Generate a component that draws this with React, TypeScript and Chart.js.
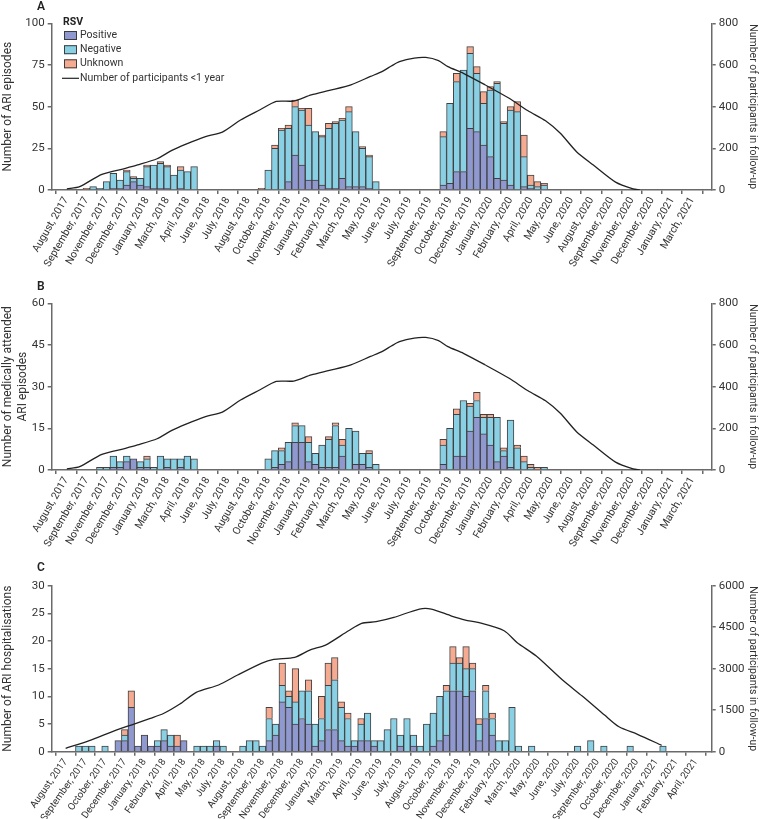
import { useEffect, useRef } from "react";
import { Chart, registerables } from "chart.js";
Chart.register(...registerables);

const FONT = "Roboto, 'Open Sans', sans-serif";
const TXT = "#333333";
const AXIS = "#6a6a6a";
const EDGE = "rgba(55,55,55,0.95)";
const C_POS = "#8f98cf";
const C_NEG = "#89d0e4";
const C_UNK = "#f5ab92";

// x tick labels (one every 3 two-week bars)
const ticksAB = ["August, 2017", "September, 2017", "November, 2017", "December, 2017", "January, 2018", "March, 2018", "April, 2018", "June, 2018", "July, 2018", "August, 2018", "October, 2018", "November, 2018", "January, 2019", "February, 2019", "March, 2019", "May, 2019", "June, 2019", "July, 2019", "September, 2019", "October, 2019", "December, 2019", "January, 2020", "February, 2020", "April, 2020", "May, 2020", "June, 2020", "August, 2020", "September, 2020", "November, 2020", "December, 2020", "January, 2021", "March, 2021"];
const ticksC = ["August, 2017", "September, 2017", "October, 2017", "December, 2017", "January, 2018", "February, 2018", "April, 2018", "May, 2018", "July, 2018", "August, 2018", "September, 2018", "November, 2018", "December, 2018", "January, 2019", "March, 2019", "April, 2019", "June, 2019", "July, 2019", "August, 2019", "October, 2019", "November, 2019", "December, 2019", "February, 2020", "March, 2020", "May, 2020", "June, 2020", "July, 2020", "September, 2020", "October, 2020", "December, 2020", "January, 2021", "February, 2021", "April, 2021"];

// Panel A: ARI episodes per bar slot
const aPositive = [0,0,0,0,0,0,0,1,1,3, 5,3,2,1,1,1,0,1,0,0, 0,0,0,0,0,0,0,0,0,0, 0,0,0,5,21,15,6,6,3,1, 1,7,2,2,2,1,0,0,0,0, 0,0,0,0,0,0,3,4,11,11, 37,35,27,20,7,6,3,0,2,1, 0,0];
const aNegative = [0,0,0,0,2,1,5,9,5,8, 2,4,12,14,15,13,9,11,11,14, 0,0,0,0,0,0,0,0,0,0, 12,25,36,32,29,33,33,29,29,36, 39,35,45,33,23,19,5,0,0,0, 0,0,0,0,0,0,29,48,54,61, 45,35,25,40,57,34,45,47,18,2, 2,3];
const aUnknown = [0,0,0,1,0,0,0,0,0,1, 1,0,1,0,1,1,0,2,0,0, 0,0,0,0,0,0,0,0,0,1, 0,2,1,2,4,1,10,0,1,3, 1,1,3,0,1,1,0,0,0,0, 0,0,0,0,0,0,3,0,5,0, 4,4,7,2,1,1,2,6,13,6, 3,1];

// Panel B: medically attended ARI episodes
const bPositive = [0,0,0,0,0,0,0,1,1,3, 4,1,1,0,0,1,0,1,0,0, 0,0,0,0,0,0,0,0,0,0, 0,1,2,3,10,10,3,2,1,1, 1,5,0,2,2,1,0,0,0,0, 0,0,0,0,0,0,2,0,5,5, 14,19,13,9,3,5,1,0,0,0, 0,0];
const bNegative = [0,0,0,0,0,1,1,4,2,2, 0,2,3,1,5,3,4,3,5,4, 0,0,0,0,0,0,0,0,0,0, 4,6,5,7,6,6,7,4,8,10, 15,4,15,12,4,5,2,0,0,0, 0,0,0,0,0,0,7,15,15,20, 9,6,6,10,16,2,17,8,3,1, 0,1];
const bUnknown = [0,0,0,0,0,0,0,0,0,0, 0,0,1,0,0,0,0,0,0,0, 0,0,0,0,0,0,0,0,0,0, 0,0,1,0,1,0,2,0,0,1, 1,2,0,0,0,1,0,0,0,0, 0,0,0,0,0,0,2,0,2,0, 1,3,1,1,0,1,0,1,2,1, 1,0];

// Panel C: ARI hospitalisations
const cPositive = [0,0,0,0,0,0,0,0,2,2, 8,1,3,1,1,2,1,1,2,0, 0,0,0,1,0,0,0,0,0,0, 0,2,3,9,8,5,6,5,1,2, 4,4,2,1,1,2,2,1,0,0, 0,1,0,1,0,0,1,2,3,11, 11,10,11,2,6,3,0,0,0,0, 0,0,0,0,0,0,0,0,0,0, 0,0,0,0,0,0,0,0,0,0, 0,0];
const cNegative = [0,0,1,1,1,0,1,0,0,1, 0,0,0,0,1,2,2,0,0,0, 1,1,1,1,1,0,0,1,2,2, 1,4,2,3,2,4,5,6,4,4, 8,9,6,5,1,3,5,1,2,4, 6,2,6,2,1,5,6,8,8,5, 5,5,4,3,5,3,2,2,8,1, 0,1,0,0,0,0,0,0,1,0, 2,0,1,0,0,0,1,0,0,0, 0,1];
const cUnknown = [0,0,0,0,0,0,0,0,0,1, 3,0,0,0,0,0,0,2,0,0, 0,0,0,0,0,0,0,0,0,0, 0,2,0,4,1,6,0,2,0,4, 4,4,1,1,0,1,0,0,0,0, 0,0,0,0,0,0,0,0,1,3, 1,4,1,1,1,1,0,0,0,0, 0,0,0,0,0,0,0,0,0,0, 0,0,0,0,0,0,0,0,0,0, 0,0];

// Participants <1 year in follow-up (x in bar slots)
const abLineX = [0.1, 2.0, 5.3, 8.8, 10.6, 13.5, 15.7, 17.8, 20.7, 23.2, 25.9, 28.8, 31.2, 33.8, 36.4, 39.1, 42.3, 45.2, 46.9, 48.3, 49.5, 51.7, 53.4, 55.3, 56.7, 59.0, 62.2, 65.8, 68.6, 71.2, 73.4, 75.8, 78.3, 81.6, 84.2, 85.2];
const abLineY = [5, 16, 75, 104, 120, 150, 190, 220, 256, 278, 336, 385, 425, 427, 456, 478, 505, 545, 568, 595, 616, 633, 636, 621, 592, 560, 505, 440, 380, 332, 272, 184, 120, 38, 5, 0];
const cLineX = [0.0, 3.6, 7.5, 10.3, 12.9, 14.9, 17.4, 19.9, 23.3, 26.2, 29.8, 31.7, 34.9, 37.2, 39.6, 43.1, 45.1, 47.3, 50.0, 53.9, 55.7, 58.8, 60.9, 62.8, 66.8, 68.8, 71.7, 75.7, 78.7, 82.1, 84.3, 87.2, 90.8];
const cLineY = [120, 400, 760, 990, 1205, 1380, 1723, 2145, 2410, 2771, 3193, 3337, 3410, 3675, 3855, 4373, 4639, 4700, 4855, 5157, 5157, 4904, 4759, 4675, 4373, 3940, 3458, 2590, 2012, 1325, 900, 620, 230];

type Panel = {
  letter: string; letterY: number; top: number; height: number; padTop: number; xHeight: number; tickSize: number; tickRot: number;
  pos: number[]; neg: number[]; unk: number[]; lineX: number[]; lineY: number[];
  ticks: string[]; xMin: number; xMax: number; yMax: number; yStep: number; y1Max: number; y1Step: number;
  yTitle: string | string[]; legend: boolean;
};

const panels: Panel[] = [
  { letter: "A", letterY: 1, top: 0, height: 290, padTop: 23.3, xHeight: 100, tickSize: 10.5, tickRot: 60, pos: aPositive, neg: aNegative, unk: aUnknown,
    lineX: abLineX, lineY: abLineY, ticks: ticksAB, xMin: -0.62, xMax: 94.35, yMax: 100, yStep: 25, y1Max: 800, y1Step: 200,
    yTitle: "Number of ARI episodes", legend: true },
  { letter: "B", letterY: 11, top: 270, height: 290, padTop: 33.3, xHeight: 90, tickSize: 10.5, tickRot: 60, pos: bPositive, neg: bNegative, unk: bUnknown,
    lineX: abLineX, lineY: abLineY, ticks: ticksAB, xMin: -0.62, xMax: 94.35, yMax: 60, yStep: 15, y1Max: 800, y1Step: 200,
    yTitle: ["Number of medically attended", "ARI episodes"], legend: false },
  { letter: "C", letterY: 22, top: 540, height: 300, padTop: 45.7, xHeight: 88.3, tickSize: 9.8, tickRot: 55, pos: cPositive, neg: cNegative, unk: cUnknown,
    lineX: cLineX, lineY: cLineY, ticks: ticksC, xMin: -0.6, xMax: 96.9, yMax: 30, yStep: 5, y1Max: 6000, y1Step: 1500,
    yTitle: "Number of ARI hospitalisations", legend: false },
];

const toXY = (arr: number[]) => arr.map((v, i) => ({ x: i, y: v })).filter((d) => d.y > 0);

const decor = {
  id: "decor",
  afterDraw(chart: any, _args: any, opts: any) {
    const ctx = chart.ctx as CanvasRenderingContext2D;
    ctx.save();
    ctx.fillStyle = "#222";
    ctx.textBaseline = "top";
    ctx.font = `600 12px ${FONT}`;
    ctx.fillText(opts.letter, 37, opts.letterY);
    if (opts.legend) {
      const ds = chart.data.datasets;
      ctx.textBaseline = "middle";
      ctx.font = `bold 10.5px ${FONT}`;
      ctx.fillStyle = "#222";
      ctx.fillText("RSV", 63, 22.7);
      ctx.font = `10.5px ${FONT}`;
      const ys = [35.5, 49.7, 63.8];
      for (let i = 0; i < 3; i++) {
        ctx.fillStyle = ds[i].backgroundColor;
        ctx.fillRect(64, ys[i] - 4.5, 13, 9);
        ctx.strokeStyle = EDGE;
        ctx.lineWidth = 1;
        ctx.strokeRect(64.5, ys[i] - 4, 12, 8);
        ctx.fillStyle = TXT;
        ctx.fillText(ds[i].label, 80, ys[i]);
      }
      ctx.strokeStyle = "#222";
      ctx.lineWidth = 1.2;
      ctx.beginPath();
      ctx.moveTo(62, 78.3);
      ctx.lineTo(79, 78.3);
      ctx.stroke();
      ctx.fillStyle = TXT;
      ctx.fillText(ds[3].label, 80, 78.3);
    }
    ctx.restore();
  },
};

function buildConfig(p: Panel): any {
  const barBase = { type: "bar", borderColor: EDGE, borderWidth: 1, yAxisID: "y", order: 2, barPercentage: 1, categoryPercentage: 1 };
  const axisGrid = { drawOnChartArea: false, drawTicks: true, tickLength: 4, color: AXIS, lineWidth: 1.5 };
  const axisBorder = { display: true, color: AXIS, width: 1.5 };
  return {
    data: {
      datasets: [
        { ...barBase, label: "Positive", data: toXY(p.pos), backgroundColor: C_POS },
        { ...barBase, label: "Negative", data: toXY(p.neg), backgroundColor: C_NEG },
        { ...barBase, label: "Unknown", data: toXY(p.unk), backgroundColor: C_UNK },
        {
          type: "line", label: "Number of participants <1 year", yAxisID: "y1", order: 0,
          data: p.lineX.map((x, i) => ({ x, y: p.lineY[i] })),
          borderColor: "#222", borderWidth: 1.3, pointRadius: 0, tension: 0.25, fill: false,
        },
      ],
    },
    options: {
      animation: false,
      responsive: false,
      maintainAspectRatio: false,
      layout: { padding: { top: p.padTop, left: 0, right: 0, bottom: 0 } },
      plugins: {
        legend: { display: false },
        tooltip: { enabled: false },
        decor: { letter: p.letter, letterY: p.letterY, legend: p.legend },
      },
      scales: {
        x: {
          type: "linear", min: p.xMin, max: p.xMax, stacked: true,
          afterBuildTicks: (s: any) => { s.ticks = p.ticks.map((_, i) => ({ value: 3 * i })); },
          afterFit: (s: any) => { s.height = p.xHeight; },
          ticks: {
            autoSkip: false, minRotation: p.tickRot, maxRotation: p.tickRot, padding: 1, color: TXT,
            font: { family: FONT, size: p.tickSize },
            callback: (_v: any, i: number) => p.ticks[i],
          },
          grid: axisGrid, border: axisBorder,
        },
        y: {
          type: "linear", position: "left", stacked: true, min: 0, max: p.yMax,
          afterFit: (s: any) => { s.width = 51.7; },
          ticks: { stepSize: p.yStep, color: TXT, padding: 3, font: { family: FONT, size: 11.5 }, callback: (v: any) => String(v) },
          grid: axisGrid, border: axisBorder,
          title: { display: true, text: p.yTitle, color: TXT, padding: { top: 1, bottom: 0 }, font: { family: FONT, size: 12 } },
        },
        y1: {
          type: "linear", position: "right", min: 0, max: p.y1Max,
          afterFit: (s: any) => { s.width = 47.3; },
          ticks: { stepSize: p.y1Step, color: TXT, padding: 3, font: { family: FONT, size: 11.5 }, callback: (v: any) => String(v) },
          grid: axisGrid, border: axisBorder,
          title: { display: true, text: "Number of participants in follow-up", color: TXT, padding: { top: 0, bottom: 0 }, font: { family: FONT, size: 10.5 } },
        },
      },
    },
    plugins: [decor],
  };
}

function PanelChart({ p }: { p: Panel }) {
  const ref = useRef<HTMLCanvasElement>(null);
  useEffect(() => {
    const chart = new Chart(ref.current as HTMLCanvasElement, buildConfig(p));
    return () => chart.destroy();
  }, []);
  return (
    <canvas
      ref={ref}
      width={759}
      height={p.height}
      style={{ position: "absolute", left: 0, top: p.top, width: 759, height: p.height }}
    />
  );
}

export default function App() {
  return (
    <div style={{ position: "absolute", left: 0, top: 0, width: 759, height: 819, overflow: "hidden", background: "#fff" }}>
      {panels.map((p) => (
        <PanelChart key={p.letter} p={p} />
      ))}
    </div>
  );
}
